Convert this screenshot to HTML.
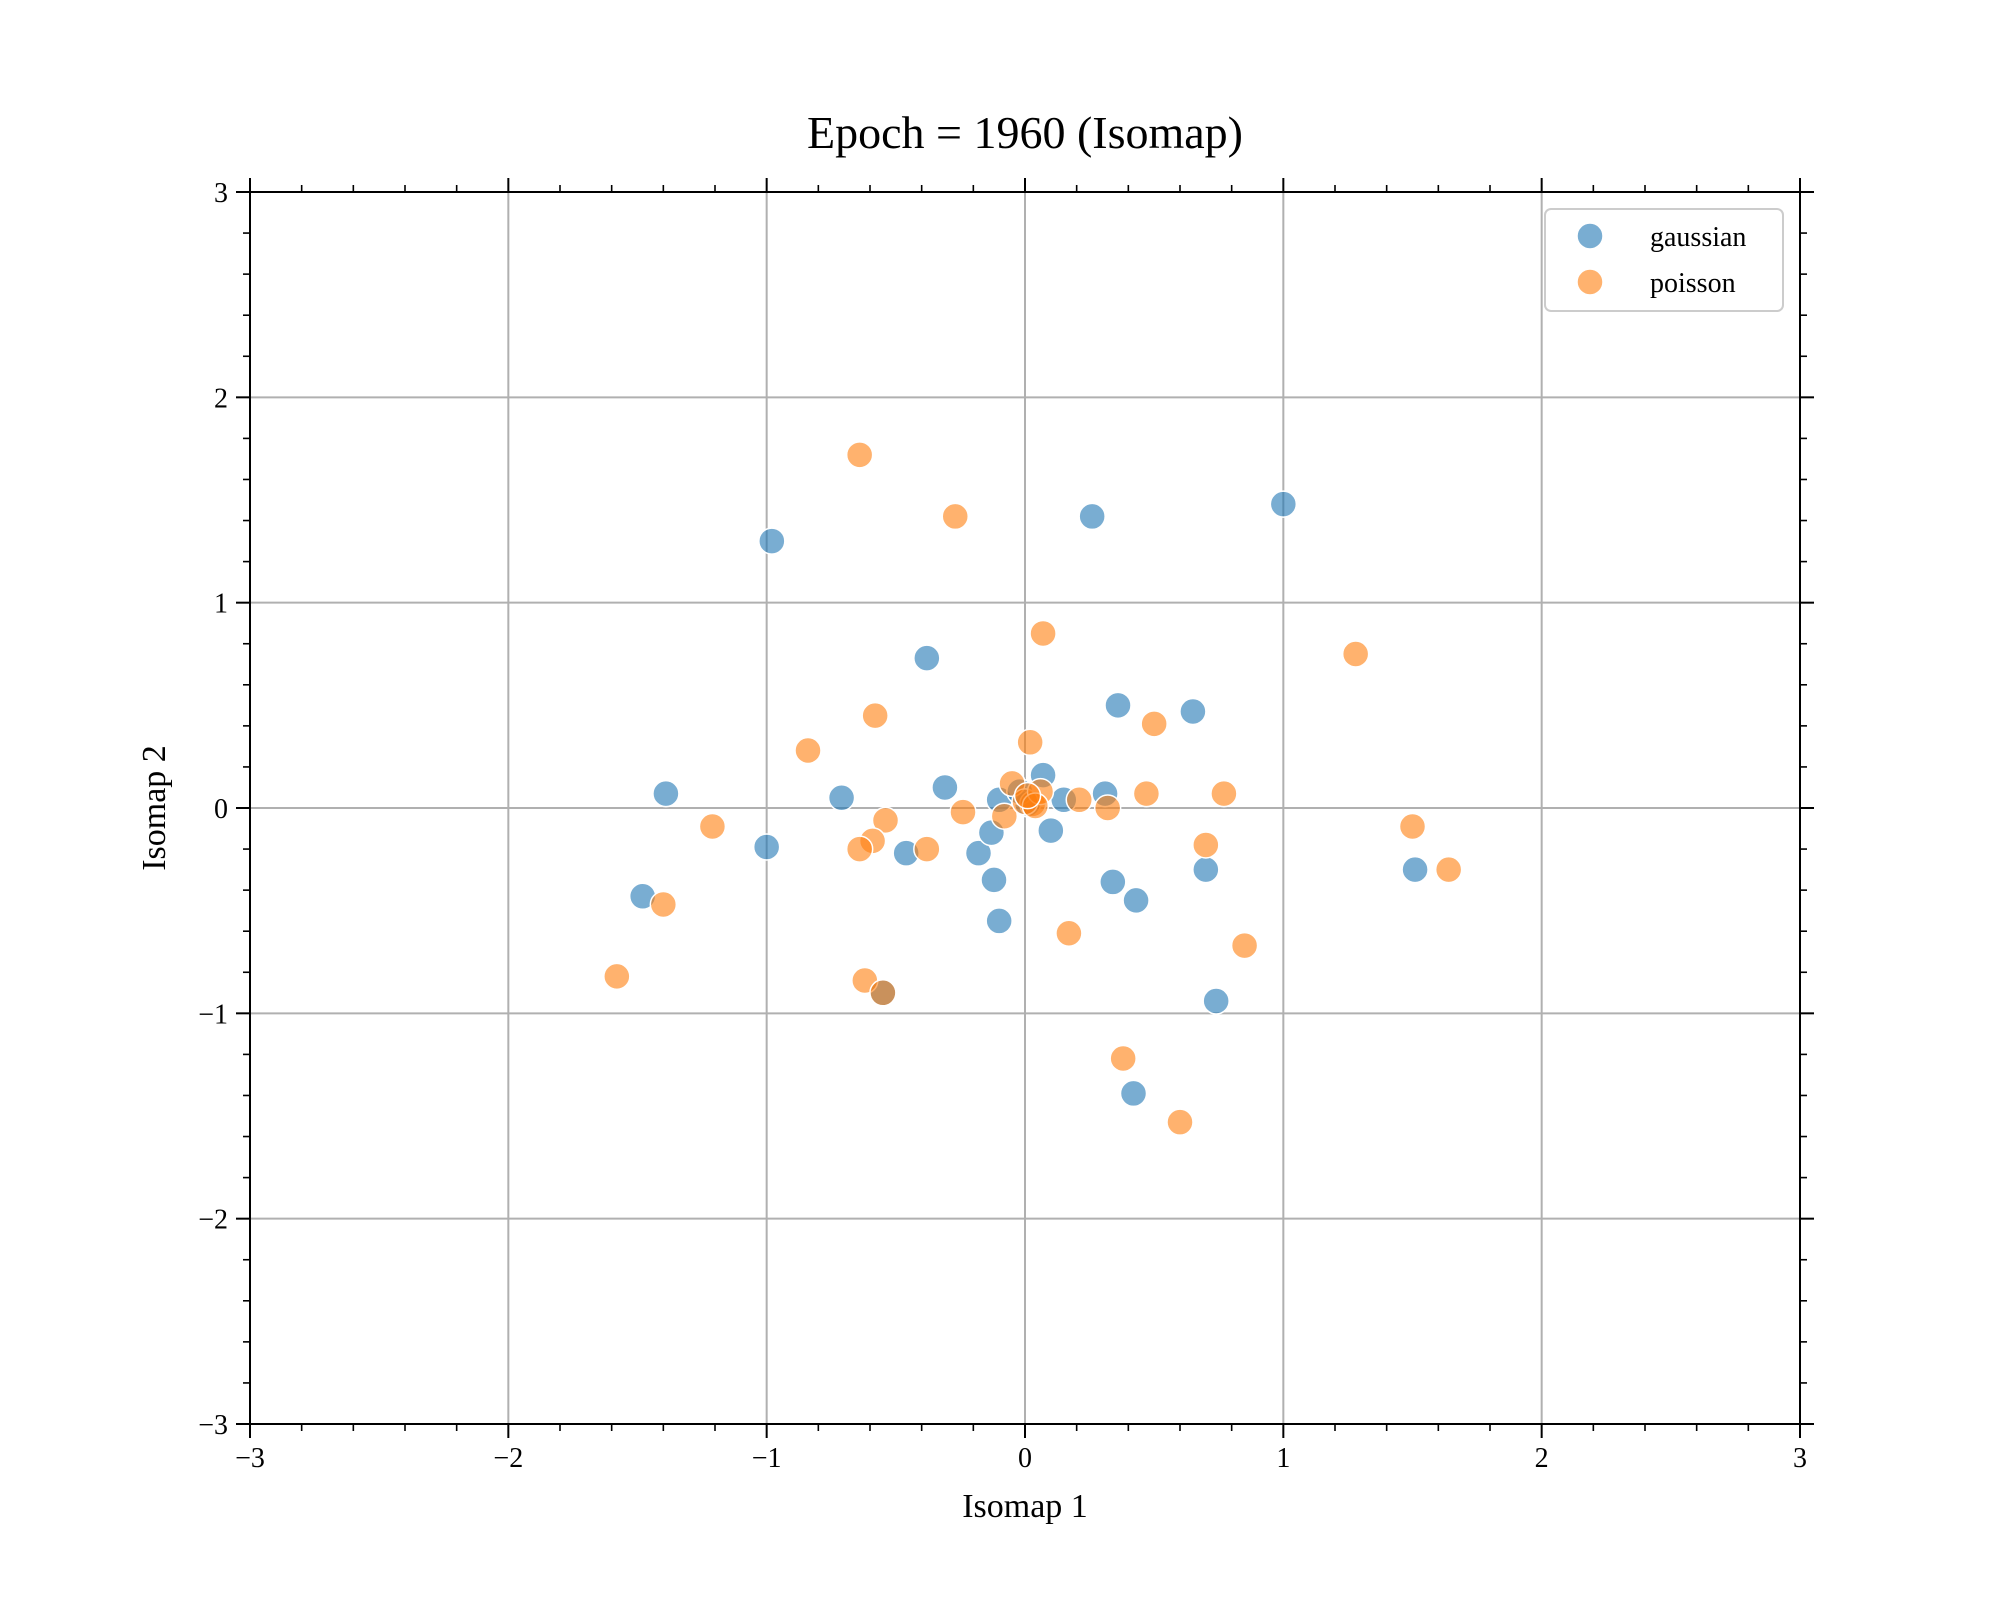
<!DOCTYPE html>
<html><head><meta charset="utf-8"><style>
body{margin:0;background:#fff}
svg text{font-family:"Liberation Serif",serif;fill:#000}
</style></head><body>
<svg id="chart" width="2000" height="1600" viewBox="0 0 2000 1600" xmlns="http://www.w3.org/2000/svg">
<rect width="2000" height="1600" fill="#fff"/>
<text x="1025" y="148" font-size="46" text-anchor="middle">Epoch = 1960 (Isomap)</text>
<text x="1025" y="1517" font-size="34" text-anchor="middle">Isomap 1</text>
<text x="0" y="0" font-size="34" text-anchor="middle" transform="translate(165,808) rotate(-90)">Isomap 2</text>
<g id="grid"></g>
<g id="points"></g>
<g id="axes"></g>
<g>
<rect x="1545" y="209" width="238" height="102" rx="6" fill="#fff" fill-opacity="0.8" stroke="#ccc" stroke-width="2"/>
<circle cx="1590" cy="236" r="13" fill="#1f77b4" fill-opacity="0.6" stroke="#fff" stroke-width="1.5"/>
<text x="1650" y="246" font-size="28">gaussian</text>
<circle cx="1590" cy="282" r="13" fill="#ff7f0e" fill-opacity="0.6" stroke="#fff" stroke-width="1.5"/>
<text x="1650" y="292" font-size="28">poisson</text>
</g>
</svg>
<script>
const xTicks=[-3,-2,-1,0,1,2,3];
const yTicks=[-3,-2,-1,0,1,2,3];
const gaussX=[1.00,0.26,-0.98,-0.38,0.36,0.65,-1.39,-0.71,-0.31,0.07,0.31,-0.10,0.15,-1.00,-0.46,-0.18,-0.13,0.10,-0.12,0.34,0.43,0.70,1.51,-0.10,-1.48,0.74,-0.55,0.42,0.01,-0.02];
const gaussY=[1.48,1.42,1.30,0.73,0.50,0.47,0.07,0.05,0.10,0.16,0.07,0.04,0.04,-0.19,-0.22,-0.22,-0.12,-0.11,-0.35,-0.36,-0.45,-0.30,-0.30,-0.55,-0.43,-0.94,-0.90,-1.39,0.02,0.08];
const poisX=[-0.64,-0.27,0.07,1.28,-0.58,0.50,-0.84,0.02,-0.05,0.21,0.32,0.47,0.77,-0.24,-0.08,-0.54,-1.21,1.50,1.64,-0.59,-0.64,-0.38,0.70,-1.40,0.17,0.85,-1.58,-0.62,-0.55,0.38,0.60,0.03,0.00,0.06,0.04,0.01];
const poisY=[1.72,1.42,0.85,0.75,0.45,0.41,0.28,0.32,0.12,0.04,0.00,0.07,0.07,-0.02,-0.04,-0.06,-0.09,-0.09,-0.30,-0.16,-0.20,-0.20,-0.18,-0.47,-0.61,-0.67,-0.82,-0.84,-0.90,-1.22,-1.53,0.02,0.03,0.08,0.01,0.06];
const L=250,R=1800,T=192,B=1424;
const sx=v=>L+(v+3)/6*(R-L);
const sy=v=>B-(v+3)/6*(B-T);
const NS="http://www.w3.org/2000/svg";
function mk(tag,attrs,parent){const e=document.createElementNS(NS,tag);for(const k in attrs)e.setAttribute(k,attrs[k]);parent.appendChild(e);return e;}
const grid=document.getElementById('grid'),axes=document.getElementById('axes'),pts=document.getElementById('points');
xTicks.forEach(v=>{
  const g=mk('line',{x1:sx(v),x2:sx(v),y1:T,y2:B,stroke:'#b0b0b0','stroke-width':2},grid);
  
  
  [[B,B+14],[T,T-14]].forEach(p=>{const t=mk('line',{x1:sx(v),x2:sx(v),y1:p[0],y2:p[1],stroke:'#000','stroke-width':2},axes);
  
  });
  const lb=mk('text',{x:sx(v),y:1467,'font-size':28,'text-anchor':'middle'},axes);
  lb.textContent=v<0?'\u2212'+Math.abs(v):String(v);
  
  
});
yTicks.forEach(v=>{
  const g=mk('line',{x1:L,x2:R,y1:sy(v),y2:sy(v),stroke:'#b0b0b0','stroke-width':2},grid);
  
  
  [[L,L-14],[R,R+14]].forEach(p=>{const t=mk('line',{x1:p[0],x2:p[1],y1:sy(v),y2:sy(v),stroke:'#000','stroke-width':2},axes);
  
  });
  const lb=mk('text',{x:228,y:sy(v)+10,'font-size':28,'text-anchor':'end'},axes);
  lb.textContent=v<0?'\u2212'+Math.abs(v):String(v);
  
  
});
for(let i=0;i<=30;i++){const v=-3+i*0.2;if(i%5===0)continue;
  [[B,B+7],[T,T-7]].forEach(p=>{const t=mk('line',{x1:sx(v),x2:sx(v),y1:p[0],y2:p[1],stroke:'#000','stroke-width':1.6},axes);
  
  });
  [[L,L-7],[R,R+7]].forEach(p=>{const t=mk('line',{x1:p[0],x2:p[1],y1:sy(v),y2:sy(v),stroke:'#000','stroke-width':1.6},axes);
  
  });
}
const fr=mk('rect',{x:L,y:T,width:R-L,height:B-T,fill:'none',stroke:'#000','stroke-width':2},axes);


gaussX.forEach((x,i)=>{const c=mk('circle',{cx:sx(x),cy:sy(gaussY[i]),r:13,fill:'#1f77b4','fill-opacity':0.6,stroke:'#fff','stroke-width':1.5},pts);
  
  });
poisX.forEach((x,i)=>{const c=mk('circle',{cx:sx(x),cy:sy(poisY[i]),r:13,fill:'#ff7f0e','fill-opacity':0.6,stroke:'#fff','stroke-width':1.5},pts);
  
  });
</script>
</body></html>
